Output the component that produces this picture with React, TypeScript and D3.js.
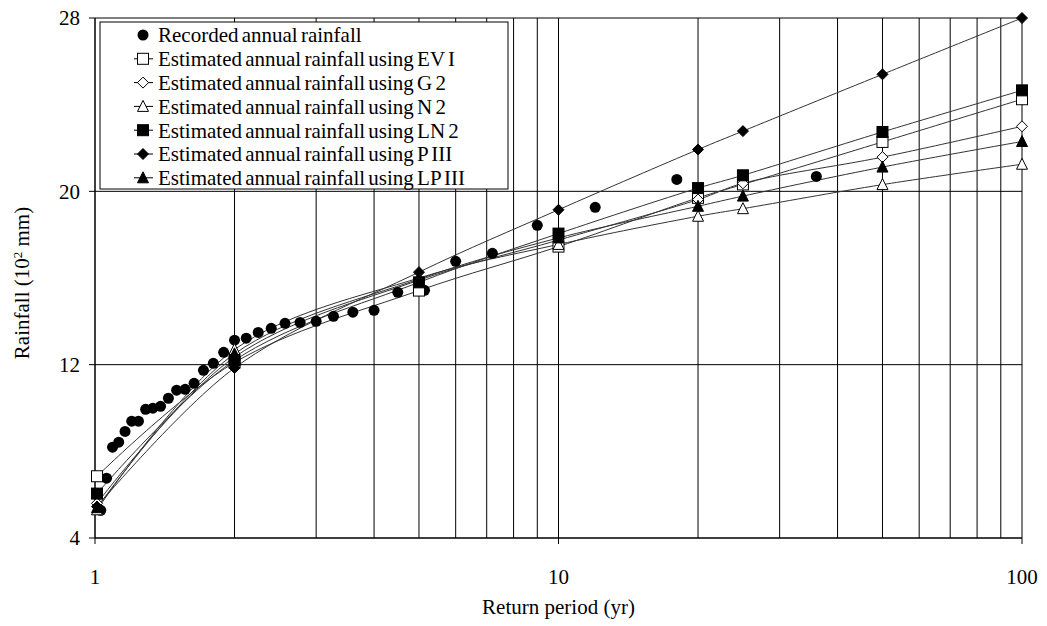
import React from "react";
import * as d3 from "d3";

const W = 1047;
const H = 626;

// Return periods for the estimated series
const estT = [1.01, 2, 5, 10, 20, 25, 50, 100];
const evi = [6.85, 12.1, 15.42, 17.45, 19.7, 20.32, 22.28, 24.25];
const g2 = [5.6, 12.35, 15.9, 17.75, 19.62, 20.37, 21.58, 23.0];
const n2 = [5.3, 12.7, 16.0, 17.55, 18.85, 19.2, 20.31, 21.25];
const ln2 = [6.05, 12.2, 15.8, 18.05, 20.15, 20.74, 22.74, 24.66];
const p3 = [5.45, 11.85, 16.27, 19.15, 21.93, 22.78, 25.4, 28.0];
const lp3 = [5.4, 12.5, 15.95, 17.85, 19.31, 19.78, 21.12, 22.3];

// Recorded annual rainfall (rank order, T = 36/m)
const recT = [36, 18, 12, 9, 7.2, 6, 5.14, 4.5, 4, 3.6, 3.27, 3, 2.77, 2.57, 2.4, 2.25, 2.12, 2.0, 1.895, 1.8, 1.714, 1.636, 1.565, 1.5, 1.44, 1.385, 1.333, 1.286, 1.241, 1.2, 1.161, 1.125, 1.091, 1.059, 1.029];
const recV = [20.69, 20.55, 19.26, 18.43, 17.14, 16.77, 15.43, 15.34, 14.51, 14.42, 14.23, 14.0, 13.95, 13.91, 13.68, 13.49, 13.22, 13.13, 12.57, 12.06, 11.74, 11.14, 10.86, 10.82, 10.45, 10.08, 9.99, 9.94, 9.39, 9.39, 8.92, 8.42, 8.19, 6.76, 5.28];

const yTicks = [4, 12, 20, 28];
const xTickLabels = [1, 10, 100];
const xGrid = [1, 2, 3, 4, 5, 6, 7, 8, 9, 10, 20, 30, 40, 50, 60, 70, 80, 90, 100];

type Marker = "circle" | "squareOpen" | "diamondOpen" | "triangleOpen" | "squareFilled" | "diamondFilled" | "triangleFilled";

const series: { name: string; values: number[]; marker: Marker }[] = [
  { name: "Estimated annual rainfall using EV I", values: evi, marker: "squareOpen" },
  { name: "Estimated annual rainfall using G 2", values: g2, marker: "diamondOpen" },
  { name: "Estimated annual rainfall using N 2", values: n2, marker: "triangleOpen" },
  { name: "Estimated annual rainfall using LN 2", values: ln2, marker: "squareFilled" },
  { name: "Estimated annual rainfall using P III", values: p3, marker: "diamondFilled" },
  { name: "Estimated annual rainfall using LP III", values: lp3, marker: "triangleFilled" },
];

const FONT = "'Liberation Serif', 'Times New Roman', serif";
const FS = 21;

function MarkerShape({ type, x, y }: { type: Marker; x: number; y: number }) {
  const black = "#000";
  switch (type) {
    case "circle":
      return <circle cx={x} cy={y} r={5.5} fill={black} />;
    case "squareOpen":
      return <rect x={x - 5.5} y={y - 5.5} width={11} height={11} fill="#fff" stroke={black} strokeWidth={1} />;
    case "squareFilled":
      return <rect x={x - 5.5} y={y - 5.5} width={11} height={11} fill={black} stroke={black} strokeWidth={1} />;
    case "diamondOpen":
      return <path d={`M${x},${y - 5.5}L${x + 5.5},${y}L${x},${y + 5.5}L${x - 5.5},${y}Z`} fill="#fff" stroke={black} strokeWidth={1} />;
    case "diamondFilled":
      return <path d={`M${x},${y - 5.5}L${x + 5.5},${y}L${x},${y + 5.5}L${x - 5.5},${y}Z`} fill={black} stroke={black} strokeWidth={1} />;
    case "triangleOpen":
      return <path d={`M${x},${y - 6}L${x + 5.5},${y + 5}L${x - 5.5},${y + 5}Z`} fill="#fff" stroke={black} strokeWidth={1} />;
    case "triangleFilled":
      return <path d={`M${x},${y - 6}L${x + 5.5},${y + 5}L${x - 5.5},${y + 5}Z`} fill={black} stroke={black} strokeWidth={1} />;
  }
}

export default function App() {
  const left = 95, right = 1022, top = 18, bottom = 538;
  const x = d3.scaleLog().domain([1, 100]).range([left, right]);
  const y = d3.scaleLinear().domain([4, 28]).range([bottom, top]);
  const line = d3
    .line<[number, number]>()
    .x((d) => x(d[0]))
    .y((d) => y(d[1]))
    .curve(d3.curveCatmullRom.alpha(0.5));

  const legX = 100, legY = 22, legW = 408, legH = 167;
  const rowH = 23.8;

  return (
    <svg width={W} height={H} style={{ position: "absolute", left: 0, top: 0, background: "#fff" }} fontFamily={FONT}>
      <rect x={0} y={0} width={W} height={H} fill="#fff" />
      {/* grid */}
      {xGrid.map((t) => (
        <line key={"xg" + t} x1={x(t)} x2={x(t)} y1={top} y2={bottom} stroke="#000" strokeWidth={1} />
      ))}
      {yTicks.map((t) => (
        <line key={"yg" + t} x1={left} x2={right} y1={y(t)} y2={y(t)} stroke="#000" strokeWidth={1} />
      ))}
      {/* axes */}
      <line x1={left} x2={left} y1={top} y2={bottom} stroke="#000" strokeWidth={1} />
      <line x1={left} x2={right} y1={bottom} y2={bottom} stroke="#000" strokeWidth={1} />
      {yTicks.map((t) => (
        <g key={"yt" + t}>
          <line x1={left - 6} x2={left} y1={y(t)} y2={y(t)} stroke="#000" />
          <text x={left - 15} y={y(t)} dy="0.35em" textAnchor="end" fontSize={FS}>
            {t}
          </text>
        </g>
      ))}
      {xTickLabels.map((t) => (
        <g key={"xt" + t}>
          <line x1={x(t)} x2={x(t)} y1={bottom} y2={bottom + 6} stroke="#000" />
          <text x={x(t)} y={577} dy="0.35em" textAnchor="middle" fontSize={FS}>
            {t}
          </text>
        </g>
      ))}
      <text x={(left + right) / 2} y={607} dy="0.35em" textAnchor="middle" fontSize={FS}>
        Return period (yr)
      </text>
      <text transform={`translate(22,${283}) rotate(-90)`} dy="0.35em" textAnchor="middle" fontSize={FS}>
        Rainfall (10<tspan dy={-7} fontSize={13}>2</tspan>
        <tspan dy={7}> mm)</tspan>
      </text>

      {/* lines */}
      {series.map((s) => (
        <path
          key={"l" + s.name}
          d={line(estT.map((t, i) => [t, s.values[i]] as [number, number])) || ""}
          fill="none"
          stroke="#333"
          strokeWidth={1}
        />
      ))}
      {/* markers */}
      {recT.map((t, i) => (
        <MarkerShape key={"r" + i} type="circle" x={x(t)} y={y(recV[i])} />
      ))}
      {series.map((s) =>
        estT.map((t, i) => <MarkerShape key={s.name + i} type={s.marker} x={x(t)} y={y(s.values[i])} />)
      )}

      {/* legend */}
      <rect x={legX} y={legY} width={legW} height={legH} fill="#fff" stroke="#000" strokeWidth={1} />
      <MarkerShape type="circle" x={143} y={legY + 13} />
      <text x={158} y={legY + 13} dy="0.35em" fontSize={FS} wordSpacing={-2}>
        Recorded annual rainfall
      </text>
      {series.map((s, i) => {
        const cy = legY + 13 + rowH * (i + 1);
        return (
          <g key={"lg" + s.name}>
            <line x1={134} x2={153} y1={cy} y2={cy} stroke="#000" strokeWidth={1} />
            <MarkerShape type={s.marker} x={143} y={cy} />
            <text x={158} y={cy} dy="0.35em" fontSize={FS} wordSpacing={-2}>
              {s.name}
            </text>
          </g>
        );
      })}
    </svg>
  );
}
